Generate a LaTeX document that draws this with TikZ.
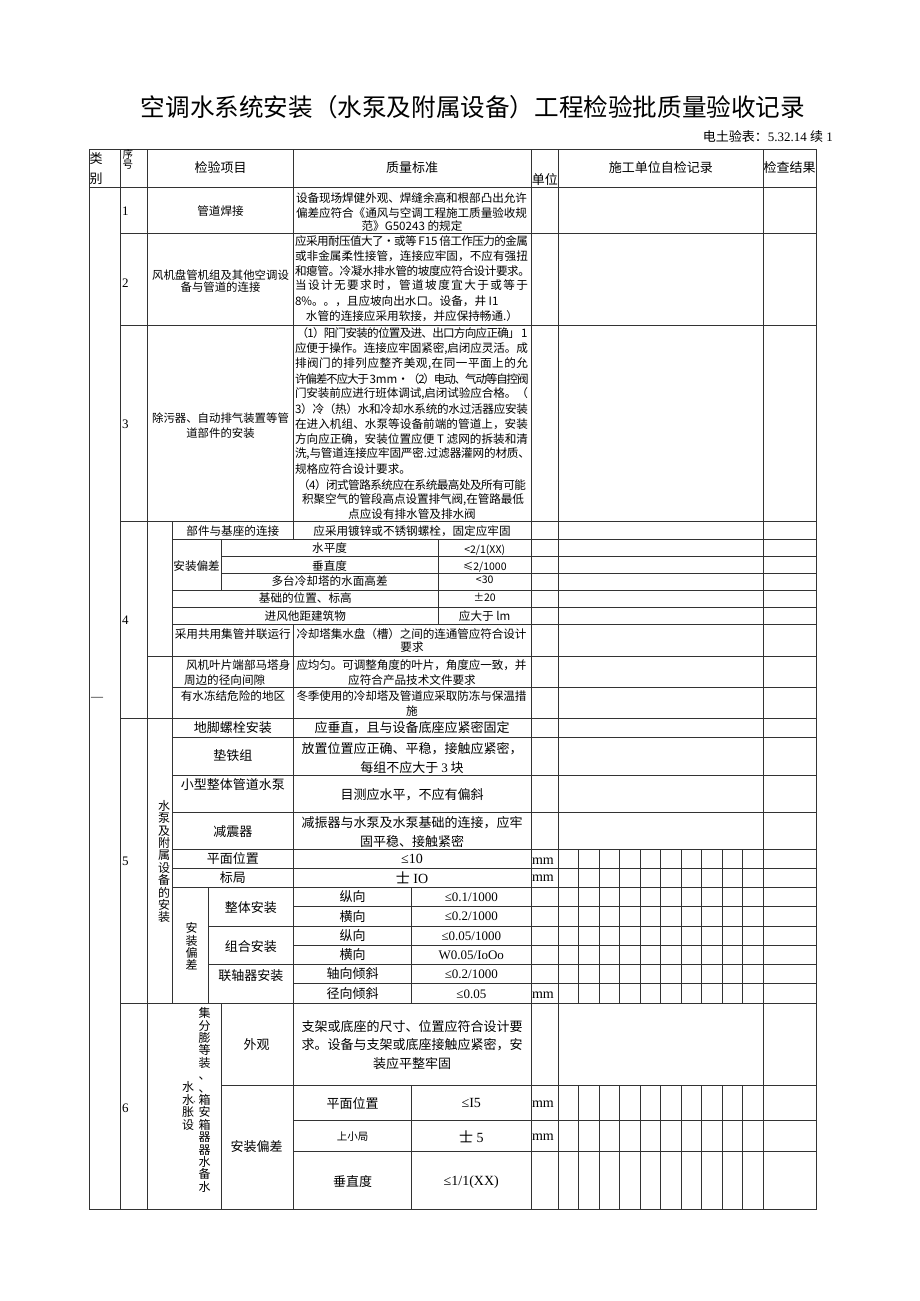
\documentclass[tikz,border=0pt]{standalone}
\usepackage{fontspec}
\setmainfont{Liberation Serif}
\newfontfamily\cjk{Noto Sans CJK SC}
\newcommand\setfs[2]{\fontsize{#1}{#2}\selectfont}
\makeatletter
\newcommand\spr[2]{\hbox to #1{\@tfor\sprc:=#2\do{\sprc\hskip 0pt plus 1fil minus 1.2pt}\unskip}}
\makeatother
\begin{document}
\begin{tikzpicture}[x=1pt,y=-1pt,
 gl/.style={line width=0.8pt,draw=black!80},
 txa/.style={inner sep=0pt,outer sep=0pt,align=center,font=\cjk\setfs{11.6}{14.5}},
 txb/.style={inner sep=0pt,outer sep=0pt,align=center,font=\cjk\setfs{13}{18.8}},
 txl/.style={txa,anchor=west,align=left},
 txn/.style={inner sep=0pt,outer sep=0pt,anchor=west,font=\rmfamily\setfs{13}{15}},
 txr/.style={inner sep=0pt,outer sep=0pt,font=\rmfamily\setfs{13}{15}},
 txs/.style={inner sep=0pt,outer sep=0pt,font=\cjk\setfs{10.5}{12}},
 txv/.style={inner sep=0pt,outer sep=0pt,align=center,font=\cjk\setfs{12}{12.4}},
]
\fill[white] (0,0) rectangle (920,1301);
\useasboundingbox (0,0) rectangle (920,1301);

% ---------- grid ----------
\draw[gl] (89,149) rectangle (816,1209.3);
\foreach \x in {120,147.7,531,558.3,763.3} \draw[gl] (\x,149) -- (\x,1209.3);
\draw[gl] (293.3,149) -- (293.3,539) (293.3,624.3) -- (293.3,1209.3);
\draw[gl] (172.3,521.7) -- (172.3,1003.3);
\draw[gl] (221,539) -- (221,590.3) (221,1003.3) -- (221,1209.3);
\draw[gl] (438.3,539) -- (438.3,624.3);
\draw[gl] (208.3,887.3) -- (208.3,1003.3);
\draw[gl] (411.7,887.3) -- (411.7,1003.3) (411.7,1085) -- (411.7,1209.3);
\foreach \k in {1,...,9} \draw[gl] ({558.3+20.5*\k},849) -- ({558.3+20.5*\k},1003.3) ({558.3+20.5*\k},1085) -- ({558.3+20.5*\k},1209.3);
\draw[gl] (89,187.3) -- (816,187.3);
\foreach \y in {233.3,325,521.7,718.3,1003.3} \draw[gl] (120,\y) -- (816,\y);
\draw[gl] (147.7,656) -- (816,656);
\foreach \y in {539,590.3,607.3,624.3,687.3,737.7,775,812.3,849,868.3,887.3} \draw[gl] (172.3,\y) -- (816,\y);
\foreach \y in {556,573.3,1085} \draw[gl] (221,\y) -- (816,\y);
\foreach \y in {926,964.3} \draw[gl] (208.3,\y) -- (816,\y);
\foreach \y in {906.7,945.7,983.3,1120,1151.7} \draw[gl] (293.3,\y) -- (816,\y);

% ---------- title ----------
\node[inner sep=0pt,font=\cjk\setfs{24.6}{28}] (title) at (473,107) {空调水系统安装（水泵及附属设备）工程检验批质量验收记录};
\node[inner sep=0pt,anchor=east,font=\rmfamily\setfs{13}{15}] (sub) at (833,137) {{\cjk 电土验表：}5.32.14 {\cjk 续} 1};

% ---------- header ----------
\node[txb] (h1a) at (96,158.5) {类};
\node[txb] (h1b) at (96,178.5) {别};
\node[inner sep=0pt,align=center,font=\cjk\setfs{10.5}{10}] (h2) at (127.8,159.5) {序\\号};
\node[txb] (h3) at (220.5,168) {检验项目};
\node[txb] (h4) at (412,168) {质量标准};
\node[txb] (h5) at (544.8,179.5) {单位};
\node[txb] (h6) at (660.8,168) {施工单位自检记录};
\node[txb] (h7) at (789.6,168) {检查结果};

\node[inner sep=0pt,font=\rmfamily\setfs{12}{14}] (dash) at (97,699) {—};

% ---------- row 1 ----------
\node[txn] (n1) at (122,211) {1};
\node[txa] (r1a) at (220.5,211) {管道焊接};
\node[txl] (r1s1) at (296,198.3) {\spr{231pt}{设备现场焊健外观、焊缝余高和根部凸出允许}};
\node[txl] (r1s2) at (296,213) {\spr{231pt}{偏差应符合《通风与空调工程施工质量验收规}};
\node[txa] (r1s3) at (412,226.3) {范》G50243 的规定};

% ---------- row 2 ----------
\node[txn] (n2) at (122,283) {2};
\node[txa,font=\cjk\setfs{11.4}{11.8}] (r2a) at (220.5,281) {风机盘管机组及其他空调设\\备与管道的连接};
\node[txl] (r2s1) at (295,241) {\spr{233pt}{应采用耐压值大了{•}或等{ F15 }倍工作压力的金属}};
\node[txl] (r2s2) at (295,255.7) {\spr{233pt}{或非金属柔性接管，连接应牢固，不应有强扭}};
\node[txl] (r2s3) at (295,271) {\spr{235pt}{和瘪管。冷凝水排水管的坡度应符合设计要求。}};
\node[txl] (r2s4) at (295,285.7) {\spr{233pt}{当设计无要求时，管道坡度宜大于或等于}};
\node[txl] (r2s5) at (295,301) {8\%。。，且应坡向出水口。设备，井 I1};
\node[txa] (r2s6) at (412,315.7) {水管的连接应采用软接，并应保持畅通.）};

% ---------- row 3 ----------
\node[txn] (n3) at (122,424) {3};
\node[txa,font=\cjk\setfs{11.4}{14.4}] (r3a) at (220.5,425.5) {除污器、自动排气装置等管\\道部件的安装};
\node[txl] (r3s1) at (296.5,333.3) {\spr{231pt}{（1）阳门安装的位置及进、出口方向应正确」{ 1}}};
\node[txl] (r3s2) at (295,348.3) {\spr{233pt}{应便于操作。连接应牢固紧密,启闭应灵活。成}};
\node[txl] (r3s3) at (295,363.3) {\spr{233pt}{排阀门的排列应整齐美观,在同一平面上的允}};
\node[txl] (r3s4) at (295,379.3) {\spr{233pt}{许偏差不应大于{ 3mm·}（2）电动、气动等自控阀}};
\node[txl] (r3s5) at (295,394) {\spr{233pt}{门安装前应进行班体调试,启闭试验应合格。（}};
\node[txl] (r3s6) at (295,409.3) {\spr{233pt}{3）冷（热）水和冷却水系统的水过活器应安装}};
\node[txl] (r3s7) at (295,424) {\spr{233pt}{在进入机组、水泵等设备前端的管道上，安装}};
\node[txl] (r3s8) at (295,439.3) {\spr{233pt}{方向应正确，安装位置应便{ T }滤网的拆装和清}};
\node[txl] (r3s9) at (295,454) {\spr{235pt}{洗,与管道连接应牢固严密.过滤器灌网的材质、}};
\node[txl] (r3s10) at (295,469.3) {规格应符合设计要求。};
\node[txl] (r3s11) at (298,485) {\spr{228pt}{（4）闭式管路系统应在系统最高处及所有可能}};
\node[txl] (r3s12) at (302,500) {\spr{222pt}{积聚空气的管段高点设置排气阀,在管路最低}};
\node[txa] (r3s13) at (412,514) {点应设有排水管及排水阀};

% ---------- row 4 ----------
\node[txn] (n4) at (122,620.7) {4};
\node[txa] (r4a) at (232.8,530.7) {部件与基座的连接};
\node[txa] (r4as) at (412,530.7) {应采用镀锌或不锈钢螺栓，固定应牢固};
\node[txa] (r4b) at (196.6,566) {安装偏差};
\node[txa] (r4b1) at (329.6,548.3) {水平度};
\node[txs] (r4b1v) at (484.7,550) {<2/1(XX)};
\node[txa] (r4b2) at (329.6,566) {垂直度};
\node[txs] (r4b2v) at (484.7,567) {≤2/1000};
\node[txa] (r4b3) at (329.6,581.5) {多台冷却塔的水面高差};
\node[txs] (r4b3v) at (484.7,580) {<30};
\node[txa] (r4c) at (305.3,598.3) {基础的位置、标高};
\node[txs] (r4cv) at (484.7,597) {±20};
\node[txa] (r4d) at (305.3,616) {进风他距建筑物};
\node[txa] (r4dv) at (484.7,616) {应大于 lm};
\node[txa] (r4e) at (232.8,634) {采用共用集管并联运行};
\node[txl] (r4es1) at (296.5,634) {\spr{230pt}{冷却塔集水盘（槽）之间的连通管应符合设计}};
\node[txa] (r4es2) at (412,647.5) {要求};
\node[txl] (r4f1) at (186,664.7) {风机叶片端部马塔身};
\node[txl] (r4f2) at (184,679.7) {周边的径向间隙};
\node[txl] (r4fs1) at (296.5,664.7) {\spr{230pt}{应均匀。可调整角度的叶片，角度应一致，并}};
\node[txa] (r4fs2) at (412,679.7) {应符合产品技术文件要求};
\node[txa] (r4g) at (233,696.3) {有水冻结危险的地区};
\node[txl] (r4gs1) at (296.5,696.3) {\spr{230pt}{冬季使用的冷却塔及管道应采取防冻与保温措}};
\node[txa] (r4gs2) at (412,710.7) {施};

% ---------- row 5 ----------
\node[txn] (n5) at (122,861.7) {5};
\node[txv] (r5v) at (164,861.5) {水\\泵\\及\\附\\属\\设\\备\\的\\安\\装};
\node[txb] (r5a) at (232.8,728) {地脚螺栓安装};
\node[txb] (r5as) at (412,728) {应垂直，且与设备底座应紧密固定};
\node[txb] (r5b) at (232.8,756) {垫铁组};
\node[txb] (r5bs) at (412,758) {放置位置应正确、平稳，接触应紧密，\\每组不应大于 {\rmfamily 3} 块};
\node[txb] (r5c) at (232.8,785) {小型整体管道水泵};
\node[txb] (r5cs) at (412,794.3) {目测应水平，不应有偏斜};
\node[txb] (r5d) at (232.8,831.5) {减震器};
\node[txb] (r5ds) at (412,831.7) {减振器与水泵及水泵基础的连接，应牢\\固平稳、接触紧密};
\node[txb] (r5e) at (232.8,859) {平面位置};
\node[txr,font=\rmfamily\setfs{14}{16}] (r5ev) at (412,859) {≤10};
\node[txn,font=\rmfamily\setfs{14}{16}] (r5eu) at (532,861) {mm};
\node[txb] (r5f) at (232.8,877.5) {标局};
\node[txr,font=\rmfamily\setfs{14}{16}] (r5fv) at (412,878) {{\cjk 士} IO};
\node[txn,font=\rmfamily\setfs{14}{16}] (r5fu) at (532,878.5) {mm};
\node[txv] (r5g) at (191.7,946.5) {安\\装\\偏\\差};
\node[txb] (r5h) at (250.8,907.3) {整体安装};
\node[txb] (r5h1) at (352.5,897) {纵向};
\node[txr] (r5h1v) at (471.3,897) {≤0.1/1000};
\node[txb] (r5h2) at (352.5,916.3) {横向};
\node[txr] (r5h2v) at (471.3,916.3) {≤0.2/1000};
\node[txb] (r5i) at (250.8,946.5) {组合安装};
\node[txb] (r5i1) at (352.5,935.8) {纵向};
\node[txr] (r5i1v) at (471.3,935.8) {≤0.05/1000};
\node[txb] (r5i2) at (352.5,955) {横向};
\node[txr] (r5i2v) at (471.3,955) {W0.05/IoOo};
\node[txb] (r5j) at (250.8,975.5) {联轴器安装};
\node[txb] (r5j1) at (352.5,974) {轴向倾斜};
\node[txr] (r5j1v) at (471.3,974.5) {≤0.2/1000};
\node[txb] (r5j2) at (352.5,994) {径向倾斜};
\node[txr] (r5j2v) at (471.3,994.5) {≤0.05};
\node[txn,font=\rmfamily\setfs{14}{16}] (r5ju) at (532,995.5) {mm};

% ---------- row 6 ----------
\node[txn] (n6) at (122,1108.3) {6};
\node[txv] (r6v1) at (204.5,1100) {集\\分\\膨\\等\\装\\、\\、\\箱\\安\\箱\\器\\器\\水\\备\\水};
\node[txv] (r6v2) at (188,1106) {水\\水\\胀\\设};
\node[inner sep=0pt,outer sep=0pt,font=\cjk\setfs{6}{6}] (r6v3) at (196.3,1102) {、};
\node[txb] (r6a) at (256.7,1045) {外观};
\node[txb] (r6as) at (412,1045) {支架或底座的尺寸、位置应符合设计要\\求。设备与支架或底座接触应紧密，安\\装应平整牢固};
\node[txb] (r6b) at (256.7,1146.7) {安装偏差};
\node[txb] (r6b1) at (352.5,1103.3) {平面位置};
\node[txr,font=\rmfamily\setfs{14}{16}] (r6b1v) at (471.3,1103.3) {≤I5};
\node[txn,font=\rmfamily\setfs{14}{16}] (r6b1u) at (532,1104) {mm};
\node[txs] (r6b2) at (352.5,1136.7) {上小局};
\node[txr,font=\rmfamily\setfs{14}{16}] (r6b2v) at (471.3,1136.7) {{\cjk 士} 5};
\node[txn,font=\rmfamily\setfs{14}{16}] (r6b2u) at (532,1137.5) {mm};
\node[txb] (r6b3) at (352.5,1181.7) {垂直度};
\node[txr,font=\rmfamily\setfs{14}{16}] (r6b3v) at (471.3,1181.7) {≤1/1(XX)};
\end{tikzpicture}
\end{document}
